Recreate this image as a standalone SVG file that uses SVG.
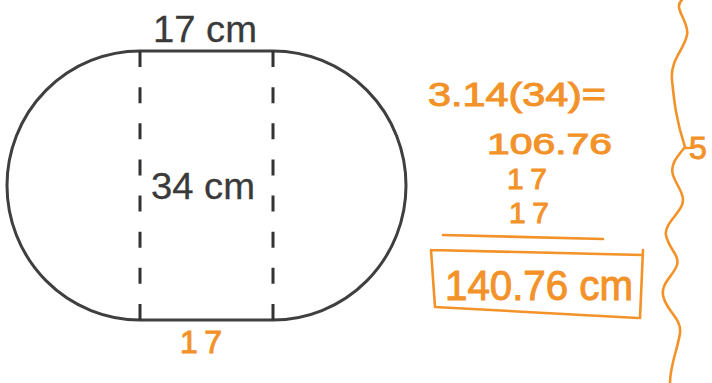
<svg xmlns="http://www.w3.org/2000/svg" width="712" height="383" viewBox="0 0 712 383">
<style>
.pr{font-family:"Liberation Sans",Arial,sans-serif;fill:#3a3a3a;stroke:#3a3a3a;stroke-width:0.3;font-size:37px}
.hw{font-family:"Liberation Sans",Arial,sans-serif;fill:#F39229;stroke:#F39229;stroke-width:1}
.ink{fill:none;stroke:#F39229;stroke-width:2.6;stroke-linecap:round;stroke-linejoin:round}
</style>
<rect width="712" height="383" fill="#fff"/>
<g id="shape">
<path d="M140,51 L273,51 A133,134.5 0 0 1 273,320 L140,320 A133,134.5 0 0 1 140,51 Z" fill="none" stroke="#3f3f3f" stroke-width="3"/>
</g>
<g id="connectors">
<line x1="140" y1="51" x2="140" y2="320" stroke="#333" stroke-width="3" stroke-dasharray="16 20.14"/>
<line x1="273" y1="51" x2="273" y2="320" stroke="#333" stroke-width="3" stroke-dasharray="16 20.14"/>
</g>
<g id="labels">
<text class="pr" x="153" y="42" textLength="104" lengthAdjust="spacingAndGlyphs">17 cm</text>
<text class="pr" x="151" y="199" textLength="104" lengthAdjust="spacingAndGlyphs">34 cm</text>
<text class="hw" x="180" y="353" font-size="32" textLength="42" lengthAdjust="spacing">17</text>
</g>
<g id="work">
<text class="hw" x="428" y="106" font-size="33" textLength="178" lengthAdjust="spacingAndGlyphs">3.14(34)=</text>
<text class="hw" x="487" y="154" font-size="30" textLength="125" lengthAdjust="spacingAndGlyphs">106.76</text>
<text class="hw" x="507" y="189" font-size="30" textLength="40" lengthAdjust="spacing">17</text>
<text class="hw" x="509" y="223" font-size="30" textLength="40" lengthAdjust="spacing">17</text>
<path class="ink" d="M443,235 L603,239"/>
<path class="ink" d="M431,250 L643,255 M643,250 L640,318 M435,307 L638,318 M431,250 L435,307"/>
<text class="hw" x="445" y="300" font-size="42" textLength="188" lengthAdjust="spacingAndGlyphs">140.76 cm</text>
</g>
<g id="brace">
<path class="ink" stroke-width="2.2" d="M682,0 C672,8 690,22 687,35 C684,50 670,60 672,80 C674,100 676,120 685,147 C676,158 670,165 673,175 C676,185 686,195 682,205 C678,215 664,225 666,235 C668,248 680,255 677,265 C674,275 661,283 663,295 C665,310 682,318 680,333 C678,348 670,365 670,383 M685,148 L690,148"/>
<text class="hw" x="689" y="159" font-size="32">5</text>
</g>
</svg>
